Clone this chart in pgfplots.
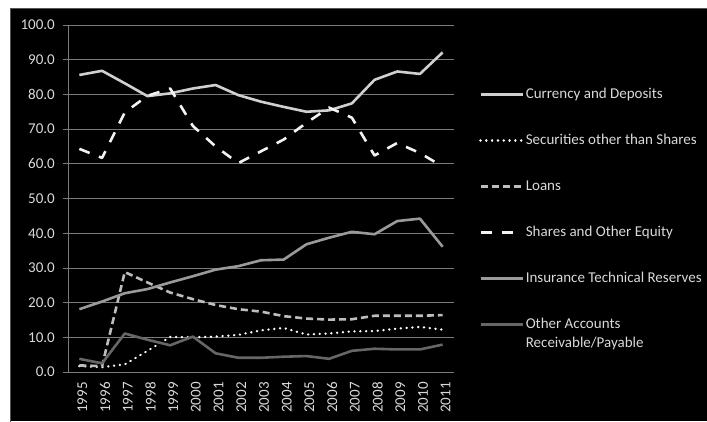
\documentclass[border=0pt]{standalone}
\usepackage{pgfplots}
\pgfplotsset{compat=1.18}
\usepackage{fontspec}
\setmainfont{Carlito}
\definecolor{txt}{HTML}{D9D9D9}
\definecolor{gridc}{HTML}{7A7A7A}
\definecolor{cCur}{HTML}{D0D0D0}
\definecolor{cSec}{HTML}{FFFFFF}
\definecolor{cLoan}{HTML}{BDBDBD}
\definecolor{cShare}{HTML}{F2F2F2}
\definecolor{cIns}{HTML}{9A9A9A}
\definecolor{cOth}{HTML}{666666}
\pgfplotstableread{
x Cur Sec Loan Share Ins Oth
0 85.6 1.7 1.9 64.3 18.1 3.8
1 86.8 1.4 1.7 61.7 20.3 2.5
2 83.2 2.2 28.8 74.8 22.7 11.1
3 79.5 6.1 25.8 79.6 23.9 9.3
4 80.3 10.1 22.9 81.7 25.8 7.7
5 81.7 10.0 21.0 70.9 27.6 10.2
6 82.7 10.2 19.3 65.0 29.5 5.4
7 79.8 10.7 18.1 60.2 30.5 4.1
8 77.9 12.0 17.4 63.6 32.2 4.1
9 76.4 12.7 16.1 67.0 32.4 4.4
10 75.0 10.8 15.4 71.8 36.8 4.6
11 75.4 11.1 15.1 76.2 38.7 3.8
12 77.4 11.7 15.2 73.3 40.4 6.1
13 84.2 11.8 16.2 62.4 39.7 6.7
14 86.6 12.5 16.2 66.0 43.5 6.5
15 85.9 13.0 16.2 63.1 44.2 6.5
16 92.1 12.2 16.4 59.2 36.1 7.9
}\data
\begin{document}
\fontsize{15pt}{18pt}\selectfont
\begin{tikzpicture}[x=1pt,y=1pt]
\path[use as bounding box] (0,0) rectangle (707,421);
\fill[white] (0,0) rectangle (707,421);
\fill[black] (10,0) rectangle (707,413);
\draw[gridc!70!black, line width=1pt] (10.5,-1) -- (10.5,412.5) -- (708,412.5);
\begin{axis}[
  at={(68pt,49pt)}, anchor=south west,
  scale only axis, width=386pt, height=347pt,
  xmin=-0.5, xmax=16.5, ymin=0, ymax=100,
  axis lines=left, axis line style={-, draw=gridc, line width=0.8pt},
  ytick={0,10,...,100},
  ymajorgrids, grid style={draw=gridc, line width=0.8pt},
  xtick={0,...,16},
  xticklabels={1995,1996,1997,1998,1999,2000,2001,2002,2003,2004,2005,2006,2007,2008,2009,2010,2011},
  x tick label style={rotate=90, anchor=east, font=\fontsize{15pt}{18pt}\selectfont, text=txt, yshift=-3pt},
  y tick label style={font=\fontsize{15pt}{18pt}\selectfont, text=txt, xshift=-3pt, /pgf/number format/.cd, fixed, fixed zerofill, precision=1, assume math mode=true},
  xtick style={draw=none},
  ytick style={draw=gridc, line width=0.8pt},
  tick align=outside, major tick length=5pt,
  extra x ticks={-0.5,0.5,...,16.5}, extra x tick labels={},
  extra x tick style={tick style={draw=gridc, line width=0.8pt}, major tick length=5pt, grid=none},
  legend cell align=left,
  legend style={at={(axis description cs:1.0648,0.82)}, anchor=north west, draw=none, fill=none, inner sep=0pt, text=txt,
     font=\fontsize{15pt}{18pt}\selectfont, row sep=32pt,
     nodes={inner ysep=0pt, inner xsep=2pt, text height=11pt, text depth=3pt}},
  legend image code/.code={\draw[#1] (0pt,0pt) -- (42pt,0pt);},
  line join=round,
]
\addplot[cCur, line width=2.6pt] table[x=x,y=Cur]{\data};
\addlegendentry{Currency and Deposits}
\addplot[cSec, line width=2.6pt, line cap=round, dash pattern=on 0.01pt off 5.8pt] table[x=x,y=Sec]{\data};
\addlegendentry{Securities other than Shares}
\addplot[cLoan, line width=2.6pt, dash pattern=on 7pt off 4pt] table[x=x,y=Loan]{\data};
\addlegendentry{Loans}
\addplot[cShare, line width=2.6pt, dash pattern=on 11pt off 10pt] table[x=x,y=Share]{\data};
\addlegendentry{Shares and Other Equity}
\addplot[cIns, line width=2.6pt] table[x=x,y=Ins]{\data};
\addlegendentry{Insurance Technical Reserves}
\addplot[cOth, line width=2.6pt] table[x=x,y=Oth]{\data};
\addlegendentry{\makebox[0pt][l]{\raisebox{-19pt}[0pt][0pt]{Receivable/Payable}}Other Accounts}
\end{axis}
\end{tikzpicture}
\end{document}
